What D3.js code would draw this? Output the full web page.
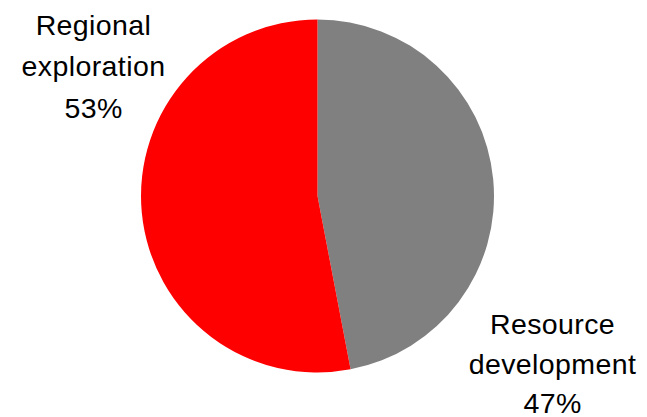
<!DOCTYPE html>
<html>
<head>
<meta charset="utf-8">
<script src="https://cdn.jsdelivr.net/npm/d3@7"></script>
<style>
  html, body { margin: 0; padding: 0; background: #fff; }
  svg { display: block; }
</style>
</head>
<body>
<svg id="chart" width="647" height="417"></svg>
<script>
// Share of spending by activity
const categories = ["Resource development", "Regional exploration"];
const values = [47, 53];
const labelLines = [["Resource", "development", "47%"], ["Regional", "exploration", "53%"]];
const colors = ["#808080", "#ff0000"];

const svg = d3.select("#chart");
const cx = 317.5, cy = 196, radius = 176.5;

const pie = d3.pie().sort(null).value(d => d)(values);
const arc = d3.arc().innerRadius(0).outerRadius(radius);

const g = svg.append("g").attr("transform", `translate(${cx},${cy})`);
g.selectAll("path")
  .data(pie)
  .join("path")
  .attr("d", arc)
  .attr("fill", (d, i) => colors[i]);

// Labels positioned outside the pie
const labelPos = [{ x: 552.5, y: 334, dy: 39.5 }, { x: 93.5, y: 34.5, dy: 41.5 }];
const labels = svg.selectAll("text.lbl")
  .data(categories)
  .join("text")
  .attr("class", "lbl")
  .attr("text-anchor", "middle")
  .attr("font-family", "Arial, 'Liberation Sans', sans-serif")
  .attr("font-size", 28.5)
  .attr("letter-spacing", 0.4)
  .attr("fill", "#000");
labels.each(function(d, i) {
  const t = d3.select(this);
  labelLines[i].forEach((line, j) => {
    t.append("tspan")
      .attr("x", labelPos[i].x)
      .attr("y", labelPos[i].y + j * labelPos[i].dy)
      .text(line);
  });
});
</script>
</body>
</html>
